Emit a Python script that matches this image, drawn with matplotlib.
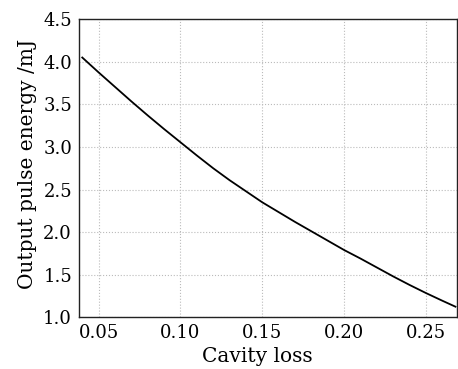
import matplotlib
matplotlib.use('Agg')
import matplotlib.pyplot as plt

# cavity loss vs output pulse energy
cavity_loss = [0.040, 0.050, 0.060, 0.070, 0.080, 0.090, 0.100, 0.110,
               0.120, 0.130, 0.140, 0.150, 0.160, 0.170, 0.180, 0.190,
               0.200, 0.210, 0.220, 0.230, 0.240, 0.250, 0.260, 0.268]
pulse_energy = [4.05, 3.875, 3.705, 3.535, 3.37, 3.21, 3.055, 2.90,
                2.75, 2.61, 2.48, 2.35, 2.235, 2.12, 2.01, 1.90,
                1.79, 1.69, 1.585, 1.48, 1.38, 1.285, 1.195, 1.125]

x_ticks = [0.05, 0.10, 0.15, 0.20, 0.25]
y_ticks = [1.0, 1.5, 2.0, 2.5, 3.0, 3.5, 4.0, 4.5]

plt.rcParams['font.family'] = ['DejaVu Serif']
plt.rcParams['font.size'] = 13

fig = plt.figure(figsize=(4.58, 3.69), dpi=100)
ax = fig.add_axes([0.1725, 0.140, 0.8255, 0.808])

ax.plot(cavity_loss, pulse_energy, color='black', linewidth=1.3)

ax.set_xlim(0.038, 0.269)
ax.set_ylim(1.0, 4.5)
ax.set_xticks(x_ticks)
ax.set_xticklabels([f'{v:.2f}' for v in x_ticks])
ax.set_yticks(y_ticks)
ax.set_yticklabels([f'{v:.1f}' for v in y_ticks])
ax.tick_params(length=0, pad=5)

ax.grid(True, linestyle=':', color='#bbbbbb', linewidth=0.8)
for s in ax.spines.values():
    s.set_color('#222222')
    s.set_linewidth(1.0)

ax.set_xlabel('Cavity loss', fontsize=14.5)
ax.set_ylabel('Output pulse energy /mJ', fontsize=14.5)
ax.xaxis.set_label_coords(0.471, -0.10)
ax.yaxis.set_label_coords(-0.11, 0.513)

fig.savefig('out.png', dpi=100)
